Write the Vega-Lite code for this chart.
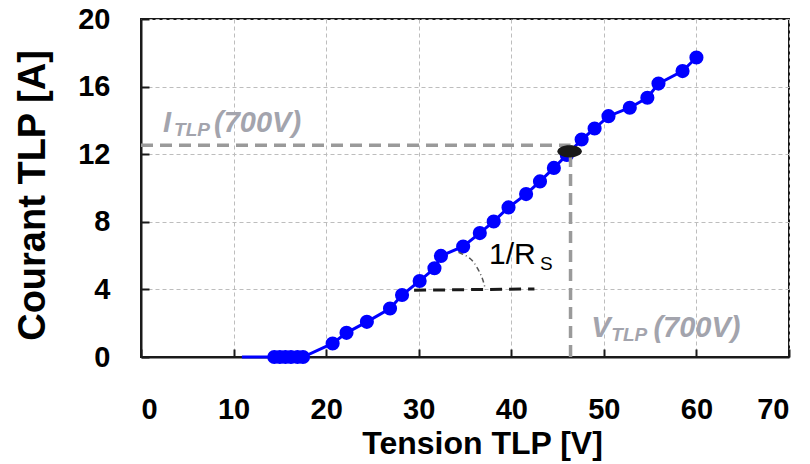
{
  "$schema": "https://vega.github.io/schema/vega-lite/v6.json",
  "description": "Courbe TLP courant-tension",
  "width": 648,
  "height": 338,
  "autosize": {"type": "none"},
  "padding": {"left": 141, "top": 19, "right": 21, "bottom": 107},
  "config": {
    "font": "Liberation Sans",
    "view": {"stroke": "#1a1a1a", "strokeWidth": 2},
    "axis": {
      "grid": true,
      "gridColor": "#bdbdbd",
      "gridDash": [4, 3],
      "gridWidth": 1,
      "domainColor": "#1a1a1a",
      "domainWidth": 2,
      "tickColor": "#1a1a1a",
      "tickWidth": 2,
      "tickSize": -8,
      "labelFont": "Liberation Sans",
      "labelFontWeight": "bold",
      "labelFontSize": 29,
      "labelColor": "#000000",
      "titleFont": "Liberation Sans",
      "titleFontWeight": "bold",
      "titleColor": "#000000"
    }
  },
  "datasets": {
    "tlp": [
      {"v": 10.9, "i": 0, "marker": false},
      {"v": 14.4, "i": 0, "marker": true},
      {"v": 15.0, "i": 0, "marker": true},
      {"v": 15.6, "i": 0, "marker": true},
      {"v": 16.2, "i": 0, "marker": true},
      {"v": 16.9, "i": 0, "marker": true},
      {"v": 17.5, "i": 0, "marker": true},
      {"v": 20.7, "i": 0.8, "marker": true},
      {"v": 22.2, "i": 1.43, "marker": true},
      {"v": 24.4, "i": 2.08, "marker": true},
      {"v": 26.9, "i": 2.87, "marker": true},
      {"v": 28.2, "i": 3.67, "marker": true},
      {"v": 30.1, "i": 4.5, "marker": true},
      {"v": 31.7, "i": 5.25, "marker": true},
      {"v": 32.4, "i": 5.98, "marker": true},
      {"v": 34.8, "i": 6.54, "marker": true},
      {"v": 36.6, "i": 7.33, "marker": true},
      {"v": 38.1, "i": 8.02, "marker": true},
      {"v": 39.7, "i": 8.85, "marker": true},
      {"v": 41.6, "i": 9.64, "marker": true},
      {"v": 43.1, "i": 10.39, "marker": true},
      {"v": 44.6, "i": 11.19, "marker": true},
      {"v": 46.0, "i": 11.95, "marker": true},
      {"v": 47.6, "i": 12.87, "marker": true},
      {"v": 49.0, "i": 13.52, "marker": true},
      {"v": 50.5, "i": 14.25, "marker": true},
      {"v": 52.8, "i": 14.75, "marker": true},
      {"v": 54.7, "i": 15.34, "marker": true},
      {"v": 55.9, "i": 16.18, "marker": true},
      {"v": 58.5, "i": 16.92, "marker": true},
      {"v": 60.0, "i": 17.72, "marker": true}
    ],
    "greyRefs": [
      {"v": 0, "v2": 46.4, "i": 12.53, "i2": 12.53},
      {"v": 46.4, "v2": 46.4, "i": 0, "i2": 12.53}
    ],
    "slope": [
      {"v": 29.5, "v2": 42.5, "i": 3.95, "i2": 4.03}
    ],
    "arc": [
      {"v": 34.3, "i": 6.2},
      {"v": 35.6, "i": 5.8},
      {"v": 36.4, "i": 5.2},
      {"v": 36.9, "i": 4.6},
      {"v": 37.2, "i": 4.0}
    ],
    "op700": [
      {"v": 46.3, "i": 12.17}
    ],
    "bigLabels": [
      {"v": 2.38, "i": 13.34, "t": "I"},
      {"v": 7.89, "i": 13.34, "t": "(700V)"},
      {"v": 48.65, "i": 1.17, "t": "V"},
      {"v": 55.35, "i": 1.17, "t": "(700V)"}
    ],
    "subLabels": [
      {"v": 3.57, "i": 13.1, "t": "TLP"},
      {"v": 50.81, "i": 0.93, "t": "TLP"}
    ],
    "rsMain": [
      {"v": 37.6, "i": 5.49, "t": "1/R"}
    ],
    "rsSub": [
      {"v": 43.1, "i": 5.12, "t": "S"}
    ]
  },
  "layer": [
    {
      "data": {"name": "tlp"},
      "mark": {"type": "line", "color": "#0000ff", "strokeWidth": 3},
      "encoding": {
        "x": {
          "field": "v",
          "type": "quantitative",
          "scale": {"domain": [0, 70], "nice": false},
          "axis": {
            "values": [0, 10, 20, 30, 40, 50, 60, 70],
            "title": "Tension TLP [V]",
            "titleFontSize": 32,
            "labelPadding": 46,
            "titleX": 341,
            "titleY": 96,
            "titleAlign": "center",
            "titleBaseline": "alphabetic"
          }
        },
        "y": {
          "field": "i",
          "type": "quantitative",
          "scale": {"domain": [0, 20], "nice": false},
          "axis": {
            "values": [0, 4, 8, 12, 16, 20],
            "title": "Courant TLP [A]",
            "titleFontSize": 38,
            "labelPadding": 39,
            "titleAngle": -90,
            "titleX": -97,
            "titleY": 176,
            "titleAlign": "center",
            "titleBaseline": "alphabetic"
          }
        }
      }
    },
    {
      "data": {"name": "tlp"},
      "transform": [{"filter": "datum.marker"}],
      "mark": {"type": "circle", "color": "#0000ff", "size": 200, "opacity": 1},
      "encoding": {
        "x": {"field": "v", "type": "quantitative"},
        "y": {"field": "i", "type": "quantitative"}
      }
    },
    {
      "data": {"name": "greyRefs"},
      "mark": {"type": "rule", "color": "#9a9a9a", "strokeWidth": 3.5, "strokeDash": [12, 7]},
      "encoding": {
        "x": {"field": "v", "type": "quantitative"},
        "x2": {"field": "v2"},
        "y": {"field": "i", "type": "quantitative"},
        "y2": {"field": "i2"}
      }
    },
    {
      "data": {"name": "slope"},
      "mark": {"type": "rule", "color": "#1a1a1a", "strokeWidth": 3, "strokeDash": [12, 7]},
      "encoding": {
        "x": {"field": "v", "type": "quantitative"},
        "x2": {"field": "v2"},
        "y": {"field": "i", "type": "quantitative"},
        "y2": {"field": "i2"}
      }
    },
    {
      "data": {"name": "arc"},
      "mark": {"type": "line", "color": "#555555", "strokeWidth": 1.5, "strokeDash": [5, 3, 1, 3], "interpolate": "natural"},
      "encoding": {
        "x": {"field": "v", "type": "quantitative"},
        "y": {"field": "i", "type": "quantitative"}
      }
    },
    {
      "data": {"name": "op700"},
      "mark": {
        "type": "point",
        "filled": true,
        "color": "#1a1a1a",
        "opacity": 1,
        "size": 600,
        "shape": "M -1 0 C -1 -0.276 -0.552 -0.5 0 -0.5 C 0.552 -0.5 1 -0.276 1 0 C 1 0.276 0.552 0.5 0 0.5 C -0.552 0.5 -1 0.276 -1 0 Z"
      },
      "encoding": {
        "x": {"field": "v", "type": "quantitative"},
        "y": {"field": "i", "type": "quantitative"}
      }
    },
    {
      "data": {"name": "bigLabels"},
      "mark": {"type": "text", "align": "left", "baseline": "alphabetic", "fontSize": 29, "fontWeight": "bold", "fontStyle": "italic", "color": "#a3a4ad"},
      "encoding": {
        "x": {"field": "v", "type": "quantitative"},
        "y": {"field": "i", "type": "quantitative"},
        "text": {"field": "t"}
      }
    },
    {
      "data": {"name": "subLabels"},
      "mark": {"type": "text", "align": "left", "baseline": "alphabetic", "fontSize": 19, "fontWeight": "bold", "fontStyle": "italic", "color": "#a3a4ad"},
      "encoding": {
        "x": {"field": "v", "type": "quantitative"},
        "y": {"field": "i", "type": "quantitative"},
        "text": {"field": "t"}
      }
    },
    {
      "data": {"name": "rsMain"},
      "mark": {"type": "text", "align": "left", "baseline": "alphabetic", "fontSize": 30, "color": "#000000"},
      "encoding": {
        "x": {"field": "v", "type": "quantitative"},
        "y": {"field": "i", "type": "quantitative"},
        "text": {"field": "t"}
      }
    },
    {
      "data": {"name": "rsSub"},
      "mark": {"type": "text", "align": "left", "baseline": "alphabetic", "fontSize": 19, "color": "#000000"},
      "encoding": {
        "x": {"field": "v", "type": "quantitative"},
        "y": {"field": "i", "type": "quantitative"},
        "text": {"field": "t"}
      }
    }
  ]
}
